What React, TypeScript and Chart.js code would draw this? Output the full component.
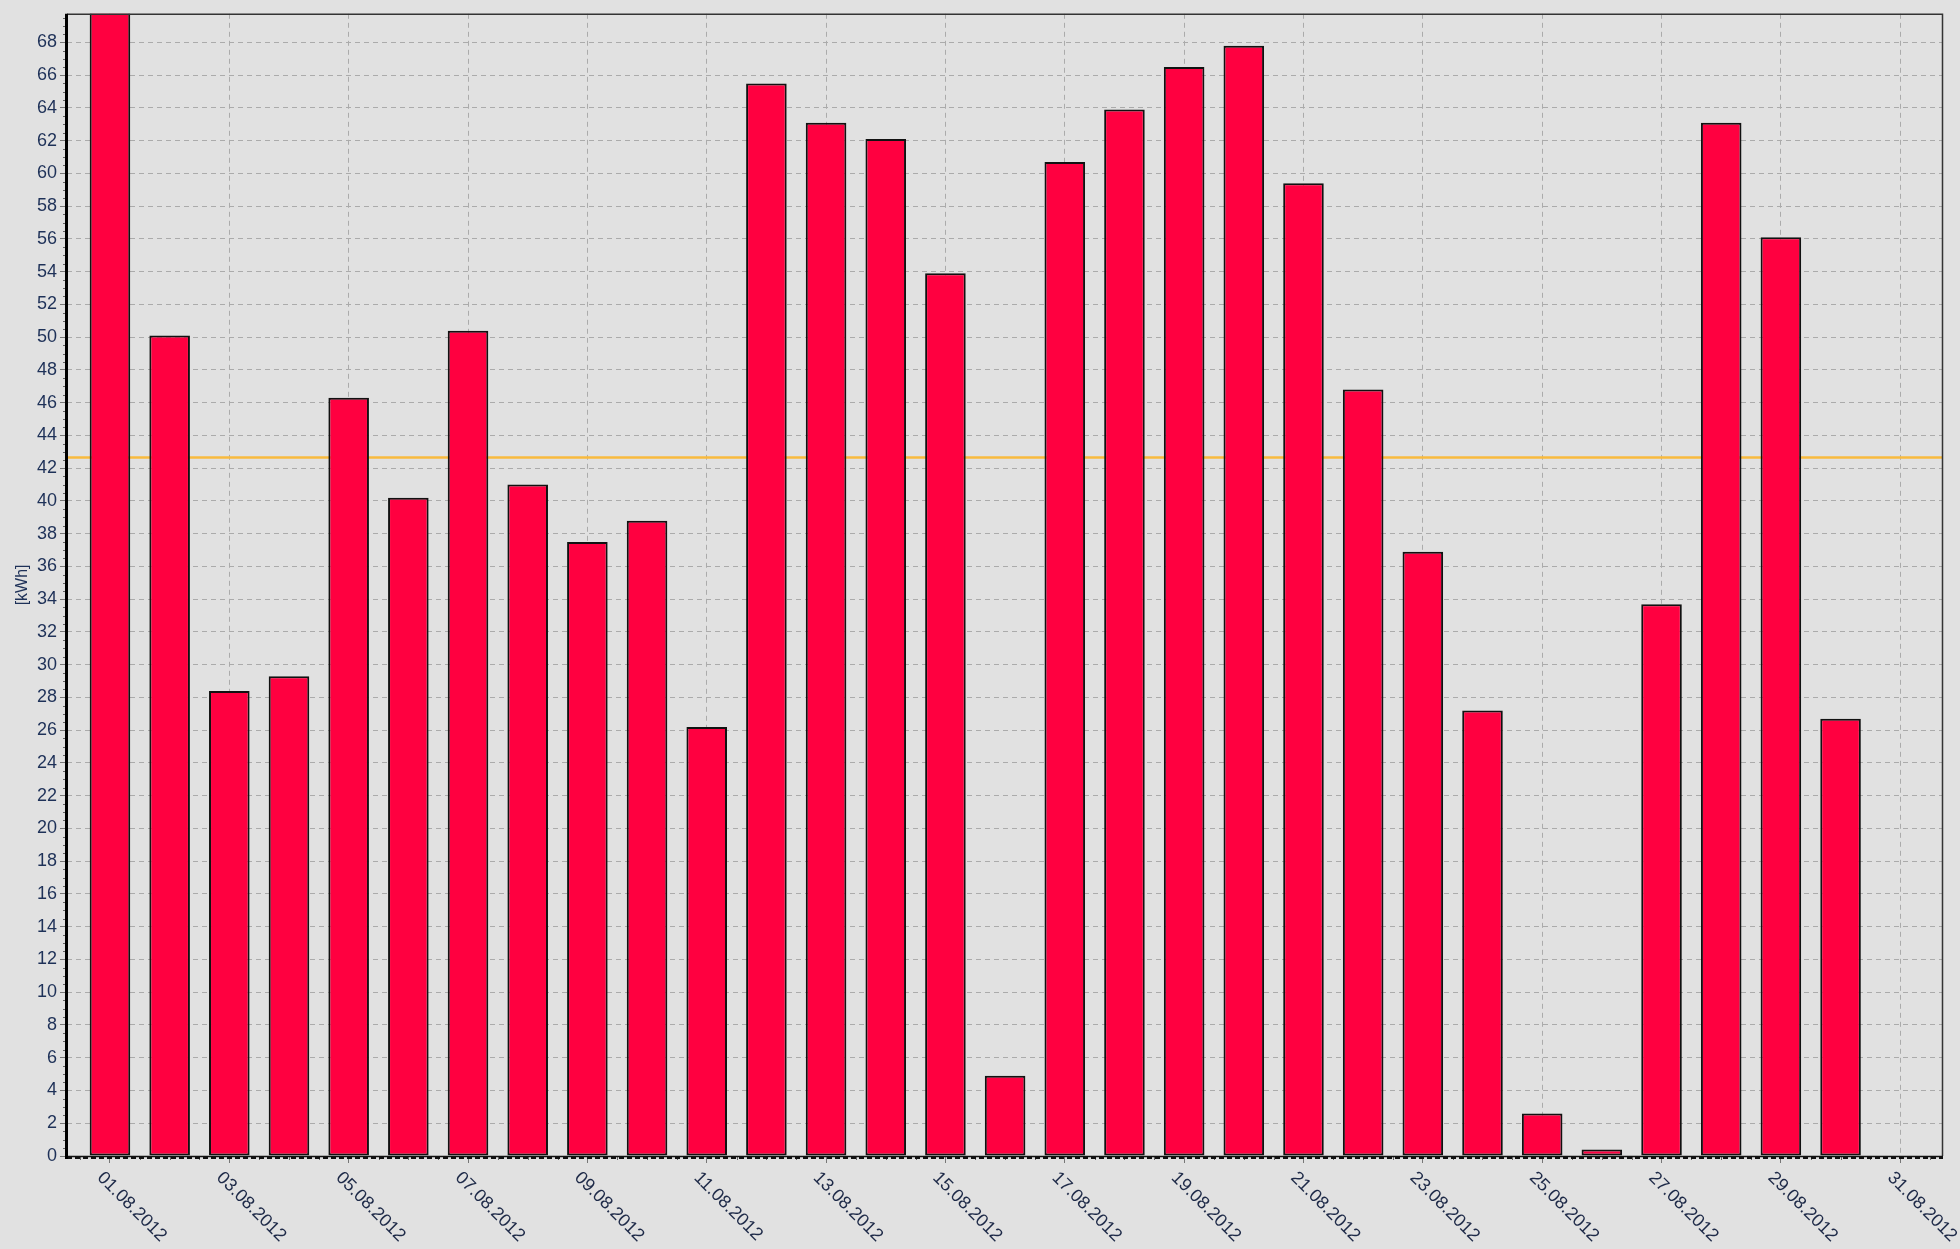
import React, { useEffect, useRef } from 'react';
import { Chart, registerables } from 'chart.js';

Chart.register(...registerables);

// ---- data ----
const days = [1, 2, 3, 4, 5, 6, 7, 8, 9, 10, 11, 12, 13, 14, 15, 16, 17, 18, 19, 20, 21, 22, 23, 24, 25, 26, 27, 28, 29, 30];
const energyKWh = [72.0, 50.1, 28.4, 29.3, 46.3, 40.2, 50.4, 41.0, 37.5, 38.8, 26.2, 65.5, 63.1, 62.1, 53.9, 4.9, 60.7, 63.9, 66.5, 67.8, 59.4, 46.8, 36.9, 27.2, 2.6, 0.4, 33.7, 63.1, 56.1, 26.7];
const averageKWh = 42.68;
const xTickDays = [1, 3, 5, 7, 9, 11, 13, 15, 17, 19, 21, 23, 25, 27, 29, 31];
const xTickLabels = ['01.08.2012', '03.08.2012', '05.08.2012', '07.08.2012', '09.08.2012', '11.08.2012', '13.08.2012', '15.08.2012', '17.08.2012', '19.08.2012', '21.08.2012', '23.08.2012', '25.08.2012', '27.08.2012', '29.08.2012', '31.08.2012'];
const yTicks = [0, 2, 4, 6, 8, 10, 12, 14, 16, 18, 20, 22, 24, 26, 28, 30, 32, 34, 36, 38, 40, 42, 44, 46, 48, 50, 52, 54, 56, 58, 60, 62, 64, 66, 68];
const yAxisTitle = '[kWh]';

const X_MIN = 0.28;
const X_MAX = 31.7;
const Y_MAX = 69.75;

const BG = '#E1E1E1';
const TEXT = '#1e3158';
const FONT = '"Liberation Sans", Arial, sans-serif';

const decorPlugin = {
  id: 'decor',
  beforeDatasetsDraw(chart: any) {
    const { ctx, chartArea } = chart;
    const y = chart.scales.y;
    const py = Math.round(y.getPixelForValue(averageKWh)) + 0.5;
    ctx.save();
    ctx.strokeStyle = '#F8BA3E';
    ctx.lineWidth = 2.5;
    ctx.beginPath();
    ctx.moveTo(chartArea.left, py);
    ctx.lineTo(chartArea.right, py);
    ctx.stroke();
    ctx.restore();
  },
  afterDraw(chart: any) {
    const { ctx, chartArea } = chart;
    const x = chart.scales.x;
    const y = chart.scales.y;
    const { left, right, top, bottom } = chartArea;
    ctx.save();
    // top & right frame
    ctx.strokeStyle = '#333';
    ctx.lineWidth = 1.5;
    ctx.beginPath();
    ctx.moveTo(left, top + 0.5);
    ctx.lineTo(right + 0.5, top + 0.5);
    ctx.lineTo(right + 0.5, bottom);
    ctx.stroke();

    // x minor ticks (every half day)
    ctx.strokeStyle = '#666';
    ctx.lineWidth = 1;
    for (let v = 0.5; v <= X_MAX; v += 0.5) {
      if (xTickDays.includes(v)) continue;
      const px = Math.round(x.getPixelForValue(v)) + 0.5;
      ctx.beginPath();
      ctx.moveTo(px, bottom);
      ctx.lineTo(px, bottom + 4);
      ctx.stroke();
    }
    // y minor ticks (every 0.5)
    for (let v = 0.5; v <= Y_MAX; v += 0.5) {
      if (v % 2 === 0) continue;
      const py = Math.round(y.getPixelForValue(v)) + 0.5;
      ctx.beginPath();
      ctx.moveTo(left - 4, py);
      ctx.lineTo(left, py);
      ctx.stroke();
    }

    // bottom axis
    ctx.strokeStyle = '#111';
    ctx.lineWidth = 1.5;
    ctx.beginPath();
    ctx.moveTo(left, bottom + 0.5);
    ctx.lineTo(right + 1, bottom + 0.5);
    ctx.stroke();
    ctx.setLineDash([5, 3]);
    ctx.lineWidth = 2;
    ctx.beginPath();
    ctx.moveTo(left, bottom + 2);
    ctx.lineTo(right + 1, bottom + 2);
    ctx.stroke();
    ctx.setLineDash([]);

    // left axis
    ctx.lineWidth = 3;
    ctx.strokeStyle = '#000';
    ctx.beginPath();
    ctx.moveTo(left - 0.5, top);
    ctx.lineTo(left - 0.5, bottom + 3);
    ctx.stroke();

    // x labels rotated 45° clockwise
    ctx.fillStyle = '#1e2a48';
    ctx.font = '18px ' + FONT;
    ctx.textAlign = 'left';
    ctx.textBaseline = 'middle';
    xTickDays.forEach((d, i) => {
      const px = x.getPixelForValue(d);
      ctx.save();
      ctx.translate(px - 10, bottom + 19);
      ctx.rotate(Math.PI / 4);
      ctx.fillText(xTickLabels[i], 0, 0);
      ctx.restore();
    });
    ctx.restore();
  },
};

export default function App() {
  const ref = useRef<HTMLCanvasElement | null>(null);

  useEffect(() => {
    document.body.style.margin = '0';
    document.body.style.background = BG;
    const canvas = ref.current;
    if (!canvas) return;
    const chart = new Chart(canvas, {
      type: 'bar',
      data: {
        datasets: [
          {
            data: days.map((d, i) => ({ x: d, y: energyKWh[i] })),
            backgroundColor: 'rgb(255,0,64)',
            borderColor: '#111',
            borderWidth: 2,
            borderSkipped: false,
            barPercentage: 0.68,
            categoryPercentage: 1,
          },
        ],
      },
      options: {
        responsive: false,
        animation: false,
        devicePixelRatio: 1,
        layout: { padding: { top: 12, right: 18, left: 0, bottom: 0 } },
        plugins: {
          legend: { display: false },
          tooltip: { enabled: false },
          title: { display: false },
        },
        scales: {
          x: {
            type: 'linear',
            min: X_MIN,
            max: X_MAX,
            offset: false,
            afterBuildTicks: (s: any) => {
              s.ticks = xTickDays.map((v) => ({ value: v }));
            },
            afterFit: (s: any) => {
              s.height = 93;
            },
            ticks: { display: false },
            border: { display: false, dash: [5, 4] },
            grid: {
              offset: false,
              color: '#ABABAB',
              lineWidth: 1,
              drawTicks: true,
              tickLength: 7,
              tickColor: '#777',
              tickBorderDash: [],
            },
          },
          y: {
            type: 'linear',
            min: 0,
            max: Y_MAX,
            afterBuildTicks: (s: any) => {
              s.ticks = yTicks.map((v) => ({ value: v }));
            },
            afterFit: (s: any) => {
              s.width = 67;
            },
            ticks: {
              color: TEXT,
              padding: 3,
              font: { family: FONT, size: 18 },
            },
            title: {
              display: true,
              text: yAxisTitle,
              color: TEXT,
              padding: { top: 13, bottom: 0 },
              font: { family: FONT, size: 16 },
            },
            border: { display: false, dash: [5, 4] },
            grid: {
              color: '#ABABAB',
              lineWidth: 1,
              drawTicks: true,
              tickLength: 7,
              tickColor: '#777',
              tickBorderDash: [],
            },
          },
        },
      },
      plugins: [decorPlugin],
    } as any);
    return () => chart.destroy();
  }, []);

  return (
    <div style={{ position: 'fixed', left: 0, top: 0, width: 1960, height: 1249, background: BG }}>
      <canvas ref={ref} width={1960} height={1249} style={{ width: 1960, height: 1249, display: 'block' }} />
    </div>
  );
}
